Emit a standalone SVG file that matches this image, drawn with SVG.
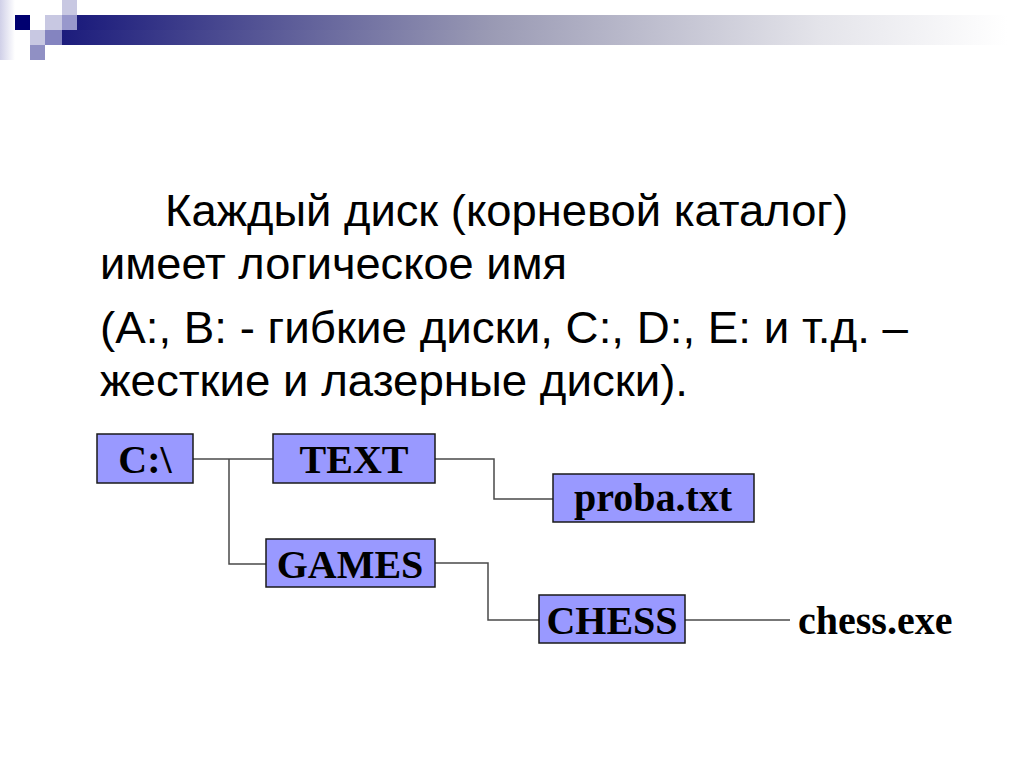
<svg xmlns="http://www.w3.org/2000/svg" width="1024" height="768" viewBox="0 0 1024 768">
  <defs>
    <linearGradient id="bar" x1="0" y1="0" x2="1" y2="0">
      <stop offset="0" stop-color="#1c1c7c"/>
      <stop offset="0.45" stop-color="#9a9ab4"/>
      <stop offset="0.8" stop-color="#e4e4ea"/>
      <stop offset="1" stop-color="#ffffff"/>
    </linearGradient>
    <linearGradient id="strip" x1="0" y1="0" x2="1" y2="0">
      <stop offset="0" stop-color="#d0d0e8"/>
      <stop offset="1" stop-color="#ffffff"/>
    </linearGradient>
    <style>
      .body { font-family: "Liberation Sans", Arial, sans-serif; font-size: 45px; fill: #000; }
      .box rect { fill: #9999ff; stroke: #1a1a1a; stroke-width: 1.5; }
      .lbl { font-family: "Liberation Serif", "Times New Roman", serif; font-weight: bold; font-size: 40px; fill: #000; }
      .conn { fill: none; stroke: #4a4a4a; stroke-width: 1.5; }
    </style>
  </defs>
  <rect width="1024" height="768" fill="#ffffff"/>
  <g id="decoration">
    <rect x="0" y="0" width="15" height="60" fill="url(#strip)"/>
    <rect x="77" y="15" width="930" height="15" fill="url(#bar)"/>
    <rect x="62" y="30" width="945" height="15" fill="url(#bar)"/>
    <rect x="15" y="15" width="15" height="15" fill="#000070"/>
    <rect x="45" y="15" width="17" height="15" fill="#c8c8e2"/>
    <rect x="62" y="0" width="15" height="15" fill="#c8c8e2"/>
    <rect x="62" y="15" width="15" height="15" fill="#9898cc"/>
    <rect x="30" y="30" width="15" height="15" fill="#c8c8e2"/>
    <rect x="45" y="30" width="17" height="15" fill="#8484c0"/>
    <rect x="30" y="45" width="15" height="15" fill="#9090c4"/>
  </g>
  <g id="body-text">
    <text class="body" x="165" y="226" textLength="683" lengthAdjust="spacingAndGlyphs">Каждый диск (корневой каталог)</text>
    <text class="body" x="100" y="279" textLength="467" lengthAdjust="spacingAndGlyphs">имеет логическое имя</text>
    <text class="body" x="100" y="343" textLength="808" lengthAdjust="spacingAndGlyphs">(A:, B: - гибкие диски, C:, D:, E: и т.д. –</text>
    <text class="body" x="100" y="396" textLength="588" lengthAdjust="spacingAndGlyphs">жесткие и лазерные диски).</text>
  </g>
  <g id="connectors">
    <polyline class="conn" points="193,459 273,459"/>
    <polyline class="conn" points="229,459 229,564 266,564"/>
    <polyline class="conn" points="435,459 494,459 494,499 553,499"/>
    <polyline class="conn" points="435,563 488,563 488,620 539,620"/>
    <polyline class="conn" points="685,620 790,620"/>
  </g>
  <g id="node-c" class="box">
    <rect x="97" y="434" width="96" height="49"/>
    <text class="lbl" x="145" y="473" text-anchor="middle">C:\</text>
  </g>
  <g id="node-text" class="box">
    <rect x="273" y="434" width="162" height="49"/>
    <text class="lbl" x="354" y="473" text-anchor="middle">TEXT</text>
  </g>
  <g id="node-proba" class="box">
    <rect x="553" y="474" width="201" height="48"/>
    <text class="lbl" x="653" y="511" text-anchor="middle">proba.txt</text>
  </g>
  <g id="node-games" class="box">
    <rect x="266" y="539" width="169" height="48"/>
    <text class="lbl" x="350" y="578" text-anchor="middle">GAMES</text>
  </g>
  <g id="node-chess" class="box">
    <rect x="539" y="595" width="146" height="48"/>
    <text class="lbl" x="612" y="634" text-anchor="middle">CHESS</text>
  </g>
  <g id="node-chessexe">
    <text class="lbl" x="798" y="634">chess.exe</text>
  </g>
</svg>
